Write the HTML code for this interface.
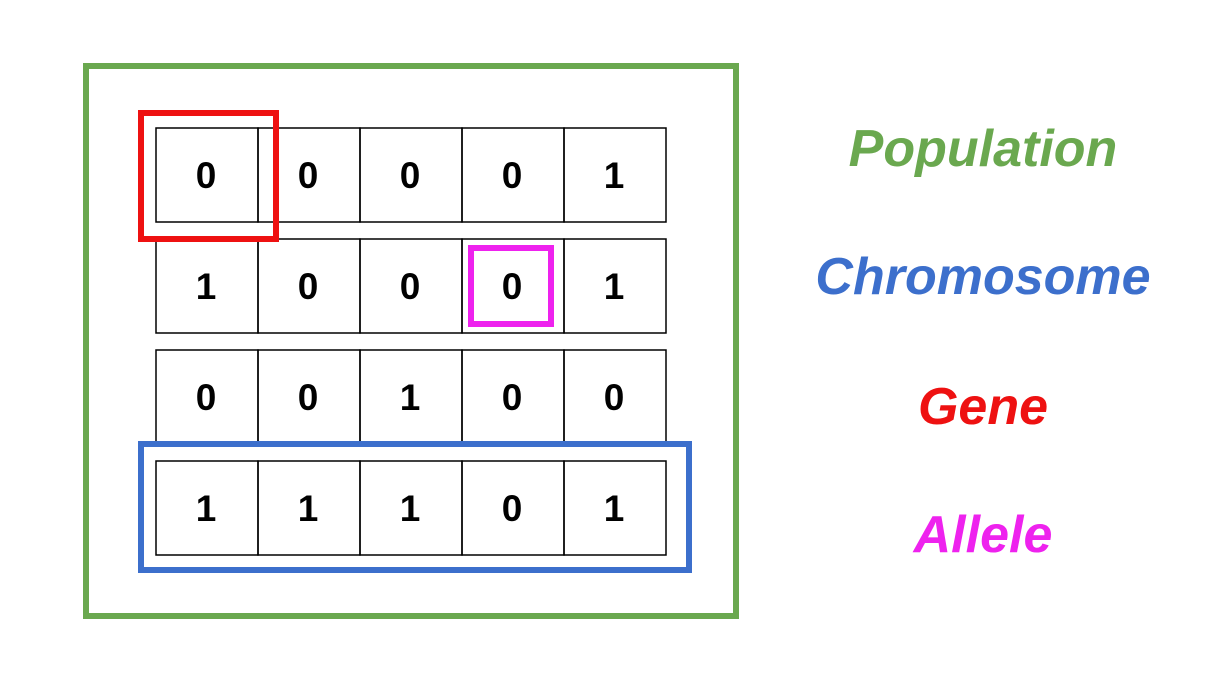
<!DOCTYPE html>
<html><head><meta charset="utf-8"><style>
html,body{margin:0;padding:0;background:#fff;width:1232px;height:674px;overflow:hidden}
svg{display:block}
</style></head><body>
<svg id="diagram" width="1232" height="674" viewBox="0 0 1232 674" xmlns="http://www.w3.org/2000/svg">
<rect x="86" y="66" width="650" height="550" fill="none" stroke="#6aa84f" stroke-width="6"/>
<g id="grid"></g>
<rect x="141" y="113" width="135" height="126" fill="none" stroke="#ee1111" stroke-width="6"/>
<rect x="471" y="248" width="80" height="76" fill="none" stroke="#ee22ee" stroke-width="6"/>
<rect x="141" y="444" width="548" height="126" fill="none" stroke="#3c6fcc" stroke-width="6"/>
<g font-family="Liberation Sans, sans-serif" font-weight="bold" font-style="italic" font-size="52" text-anchor="middle">
<text x="983" y="166" fill="#6aa84f">Population</text>
<text x="983" y="294" fill="#3c6fcc">Chromosome</text>
<text x="983" y="424" fill="#ee1111">Gene</text>
<text x="983" y="552" fill="#ee22ee">Allele</text>
</g>
</svg>
<script>
const row0 = [0,0,0,0,1];
const row1 = [1,0,0,0,1];
const row2 = [0,0,1,0,0];
const row3 = [1,1,1,0,1];
const rows = [row0,row1,row2,row3];
const NS = 'http://www.w3.org/2000/svg';
const g = document.getElementById('grid');
const x0 = 156, cw = 102, y0 = 128, ch = 94, rstep = 111;
rows.forEach((r, ri) => {
  r.forEach((v, ci) => {
    const rect = document.createElementNS(NS, 'rect');
    
    
    rect.setAttribute('x', x0 + ci * cw);
    rect.setAttribute('y', y0 + ri * rstep);
    rect.setAttribute('width', cw);
    rect.setAttribute('height', ch);
    rect.setAttribute('fill', 'none');
    rect.setAttribute('stroke', '#000');
    rect.setAttribute('stroke-width', '1.5');
    g.appendChild(rect);
    const t = document.createElementNS(NS, 'text');
    
    
    t.setAttribute('x', x0 + ci * cw + cw / 2 - 1);
    t.setAttribute('y', y0 + ri * rstep + ch / 2 + 13);
    t.setAttribute('text-anchor', 'middle');
    t.setAttribute('font-family', 'Liberation Sans, sans-serif');
    t.setAttribute('font-weight', 'bold');
    t.setAttribute('font-size', '37');
    t.textContent = v;
    g.appendChild(t);
  });
});
</script>
</body></html>
